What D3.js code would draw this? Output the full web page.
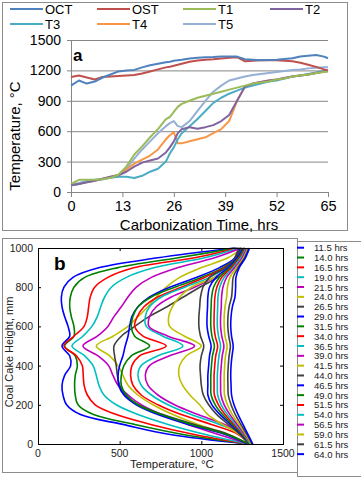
<!DOCTYPE html>
<html>
<head>
<meta charset="utf-8">
<script src="https://cdn.jsdelivr.net/npm/d3@7"></script>
<style>
  body { margin: 0; background: #fff; }
  svg { display: block; font-family: "Liberation Sans", Arial, sans-serif; }
</style>
</head>
<body>
<svg id="target"></svg>
<script>
// ---------- chart a : temperature vs carbonization time ----------
const seriesNamesA = ["OCT", "OST", "T1", "T2", "T3", "T4", "T5"];
const seriesColorsA = ["#4F81BD", "#C0504D", "#9BBB59", "#8064A2", "#4BACC6", "#F79646", "#95AFD6"];
const timeA = [0,2,4,6,8,10,12,14,16,18,20,22,24,25,26,27,28,30,32,34,36,38,40,42,44,46,48,50,52,54,56,58,60,62,64,65];
const octA = [1050,1100,1070,1090,1130,1160,1190,1200,1205,1230,1250,1265,1280,1286,1295,1300,1305,1318,1325,1330,1332,1336,1338,1336,1310,1305,1300,1303,1305,1312,1320,1338,1345,1352,1336,1320];
const ostA = [1135,1150,1130,1110,1135,1140,1145,1150,1155,1170,1190,1210,1230,1237,1245,1255,1265,1285,1298,1305,1310,1318,1325,1330,1290,1295,1300,1303,1300,1295,1290,1275,1255,1235,1210,1200];
const t1A = [80,120,120,120,125,140,170,250,370,450,540,620,720,740,790,840,870,900,930,950,970,990,1010,1030,1050,1070,1080,1090,1110,1120,1140,1150,1160,1175,1185,1190];
const t2A = [70,80,95,110,130,150,165,200,250,290,310,330,390,440,500,580,620,640,625,640,660,700,760,900,1040,1070,1085,1100,1110,1125,1140,1150,1160,1175,1190,1195];
const t3A = [65,80,100,115,125,140,150,150,138,160,200,230,300,380,440,520,580,650,720,800,880,930,970,1000,1030,1050,1070,1090,1100,1120,1140,1150,1165,1180,1195,1200];
const t4A = [70,80,95,110,130,150,170,220,280,320,360,420,520,560,590,480,480,500,520,540,580,620,700,900,1040,1070,1085,1100,1110,1125,1140,1150,1160,1175,1190,1195];
const t5A = [70,90,110,120,130,145,165,230,330,420,500,580,650,680,700,650,640,700,800,900,990,1050,1100,1120,1140,1155,1165,1175,1185,1195,1205,1210,1220,1225,1230,1230];
const xTicksA = [0,13,26,39,52,65];
const yTicksA = [0,300,600,900,1200,1500];

// ---------- chart b : temperature profiles along coal cake height ----------
const heightB = [0,50,100,150,200,250,300,350,400,450,500,550,600,650,700,750,800,850,900,950,1000];
const hoursB = ["11.5","14.0","16.5","19.0","21.5","24.0","26.5","29.0","31.5","34.0","36.5","39.0","41.5","44.0","46.5","49.0","51.5","54.0","56.5","59.0","61.5","64.0"];
const colorsB = ["#0000ff","#008000","#ff0000","#00bfbf","#bf00bf","#bfbf00","#404040"];
const profilesB = [
  [1285,800,520,260,175,153,147,163,200,194,147,194,184,163,147,143,159,214,377,734,1204],
  [1285,880,590,340,245,228,224,228,241,228,163,220,220,204,194,198,220,286,490,857,1214],
  [1285,950,690,480,350,302,282,277,271,235,159,220,282,302,310,320,347,428,592,959,1224],
  [1290,1020,796,612,479,404,373,357,337,286,208,275,330,363,384,408,449,541,714,1020,1234],
  [1290,1100,918,755,632,551,490,459,432,367,275,363,428,465,510,551,602,694,857,1081,1244],
  [1290,1163,979,826,704,612,551,520,490,439,357,459,551,612,673,724,785,867,1000,1163,1250],
  [1285,1163,959,765,612,534,500,486,479,469,465,510,592,680,790,890,990,1100,1170,1204,1230],
  [1285,1142,918,734,602,526,494,490,500,520,534,551,561,575,612,683,806,969,1112,1208,1240],
  [1290,1153,938,755,612,541,510,510,526,571,683,592,571,581,612,694,836,1000,1132,1214,1245],
  [1295,1224,1061,877,734,632,581,567,575,622,785,643,592,608,649,734,877,1020,1142,1220,1255],
  [1295,1244,1112,938,796,694,632,612,632,734,887,765,663,657,683,755,898,1051,1153,1224,1265],
  [1295,1255,1142,979,836,734,673,657,683,806,959,796,679,683,724,816,959,1081,1173,1234,1270],
  [1295,1230,1130,1040,990,930,885,862,867,908,1000,898,806,800,822,867,938,1081,1179,1224,1260],
  [1290,1235,1165,1095,1045,1012,1000,995,992,1000,1015,995,985,985,990,995,1010,1050,1150,1210,1250],
  [1295,1245,1180,1115,1065,1040,1040,1040,1045,1050,1060,1045,1035,1035,1038,1040,1050,1090,1165,1220,1260],
  [1295,1250,1190,1130,1085,1060,1058,1058,1062,1068,1080,1065,1058,1058,1060,1063,1075,1110,1175,1228,1265],
  [1300,1255,1200,1145,1105,1080,1078,1078,1082,1088,1100,1085,1078,1078,1080,1083,1095,1125,1185,1235,1270],
  [1300,1260,1210,1160,1122,1100,1098,1098,1102,1108,1118,1105,1098,1098,1100,1102,1112,1140,1195,1242,1275],
  [1305,1265,1220,1175,1140,1120,1118,1118,1122,1128,1138,1125,1118,1118,1122,1124,1132,1155,1205,1250,1280],
  [1305,1270,1230,1190,1160,1142,1140,1140,1143,1148,1158,1145,1140,1140,1145,1155,1160,1175,1215,1258,1285],
  [1310,1278,1242,1208,1182,1165,1163,1162,1165,1170,1178,1168,1162,1163,1170,1185,1190,1195,1225,1265,1290],
  [1315,1285,1255,1225,1200,1185,1182,1180,1182,1188,1195,1185,1180,1182,1190,1206,1210,1212,1232,1270,1295]
];
const xTicksB = [0,500,1000,1500];
const yTicksB = [0,200,400,600,800,1000];

const svg = d3.select("#target").attr("width", 361).attr("height", 480);

// ================= chart a =================
const gA = svg.append("g");
gA.append("rect").attr("x", 2.5).attr("y", 2.5).attr("width", 345).attr("height", 228)
  .attr("fill", "none").attr("stroke", "#8c8c8c");

const xA = d3.scaleLinear().domain([0, 65]).range([71, 328]);
const yA = d3.scaleLinear().domain([0, 1500]).range([192, 40]);

// y axis with gridlines
const yAxisA = gA.append("g").attr("transform", "translate(71,0)")
  .call(d3.axisLeft(yA).tickValues(yTicksA).tickFormat(d3.format("d")).tickSize(-257).tickPadding(10));
yAxisA.select(".domain").attr("stroke", "#868686");
yAxisA.selectAll(".tick line").attr("stroke", "#868686").attr("x1", -4);
yAxisA.selectAll(".tick text").attr("font-size", 14).attr("fill", "#000")
  .attr("font-family", "Liberation Sans, Arial, sans-serif");

// x axis
const xAxisA = gA.append("g").attr("transform", "translate(0,192)")
  .call(d3.axisBottom(xA).tickValues(xTicksA).tickSize(5).tickPadding(4).tickSizeOuter(0));
xAxisA.select(".domain").attr("stroke", "#868686");
xAxisA.selectAll(".tick line").attr("stroke", "#868686");
xAxisA.selectAll(".tick text").attr("font-size", 14.5).attr("fill", "#000")
  .attr("font-family", "Liberation Sans, Arial, sans-serif");

gA.append("text").attr("x", 199).attr("y", 230).attr("text-anchor", "middle")
  .attr("font-size", 15).text("Carbonization  Time, hrs");
gA.append("text").attr("transform", "translate(20,136) rotate(-90)").attr("text-anchor", "middle")
  .attr("font-size", 15).text("Temperature, °C");
gA.append("text").attr("x", 73).attr("y", 61).attr("font-size", 17).attr("font-weight", "bold").text("a");

const seriesA = [octA, ostA, t1A, t2A, t3A, t4A, t5A];
const lineA = d3.line().x((d, i) => xA(timeA[i])).y(d => yA(d));
// draw T series first, then OCT/OST on top
[6, 5, 4, 3, 2, 1, 0].forEach(k => {
  gA.append("path").datum(seriesA[k])
    .attr("fill", "none").attr("stroke", seriesColorsA[k]).attr("stroke-width", 2)
    .attr("stroke-linejoin", "round").attr("d", lineA);
});

// legend a
const legA = gA.append("g");
seriesNamesA.forEach((name, i) => {
  const col = i % 4, row = Math.floor(i / 4);
  const lx = [10, 97, 183, 270][col], ly = 9 + row * 15;
  legA.append("line").attr("x1", lx).attr("x2", lx + 33).attr("y1", ly).attr("y2", ly)
    .attr("stroke", seriesColorsA[i]).attr("stroke-width", 2);
  legA.append("text").attr("x", lx + 35).attr("y", ly + 4.5).attr("font-size", 13).text(name);
});

// ================= chart b =================
const gB = svg.append("g");
gB.append("rect").attr("x", 2.5).attr("y", 238.5).attr("width", 295).attr("height", 234)
  .attr("fill", "none").attr("stroke", "#8c8c8c");

const xB = d3.scaleLinear().domain([0, 1500]).range([38, 283]);
const yB = d3.scaleLinear().domain([0, 1000]).range([444, 248]);

const lineB = d3.line().x(d => xB(d)).y((d, i) => yB(heightB[i])).curve(d3.curveCatmullRom);
profilesB.forEach((p, i) => {
  gB.append("path").datum(p)
    .attr("fill", "none").attr("stroke", colorsB[i % colorsB.length]).attr("stroke-width", 1.6)
    .attr("stroke-linejoin", "round").attr("d", lineB);
});

// axes box with inward ticks (matlab style)
gB.append("rect").attr("x", 38.5).attr("y", 248.5).attr("width", 245).attr("height", 196)
  .attr("fill", "none").attr("stroke", "#000");
const axB = gB.append("g").attr("font-size", 10.5).attr("fill", "#222");
const tickLen = 3;
xTicksB.forEach(v => {
  axB.append("line").attr("x1", xB(v) + 0.5).attr("x2", xB(v) + 0.5).attr("y1", 444).attr("y2", 444 - tickLen).attr("stroke", "#000");
  axB.append("line").attr("x1", xB(v) + 0.5).attr("x2", xB(v) + 0.5).attr("y1", 248).attr("y2", 248 + tickLen).attr("stroke", "#000");
  axB.append("text").attr("x", xB(v)).attr("y", 457).attr("text-anchor", "middle").text(v);
});
yTicksB.forEach(v => {
  axB.append("line").attr("x1", 38).attr("x2", 38 + tickLen).attr("y1", yB(v) + 0.5).attr("y2", yB(v) + 0.5).attr("stroke", "#000");
  axB.append("line").attr("x1", 283).attr("x2", 283 - tickLen).attr("y1", yB(v) + 0.5).attr("y2", yB(v) + 0.5).attr("stroke", "#000");
  axB.append("text").attr("x", 33).attr("y", yB(v) + 4).attr("text-anchor", "end").text(v);
});
gB.append("text").attr("x", 172).attr("y", 468).attr("text-anchor", "middle")
  .attr("font-size", 11.5).attr("fill", "#222").text("Temperature, °C");
gB.append("text").attr("transform", "translate(13,352) rotate(-90)").attr("text-anchor", "middle")
  .attr("font-size", 11).attr("fill", "#222").text("Coal Cake Height, mm");
gB.append("text").attr("x", 54).attr("y", 270).attr("font-size", 19).attr("font-weight", "bold").text("b");

// legend b
const legB = gB.append("g");
legB.append("rect").attr("x", 297.5).attr("y", 241.5).attr("width", 80).attr("height", 235)
  .attr("fill", "#fff").attr("stroke", "#8c8c8c");
hoursB.forEach((h, i) => {
  const ly = 247.7 + i * 9.83;
  legB.append("line").attr("x1", 297).attr("x2", 304).attr("y1", ly).attr("y2", ly)
    .attr("stroke", colorsB[i % colorsB.length]).attr("stroke-width", 2);
  legB.append("text").attr("x", 314).attr("y", ly + 3.5).attr("font-size", 9.5).attr("fill", "#222").text(h + " hrs");
});
</script>
</body>
</html>
